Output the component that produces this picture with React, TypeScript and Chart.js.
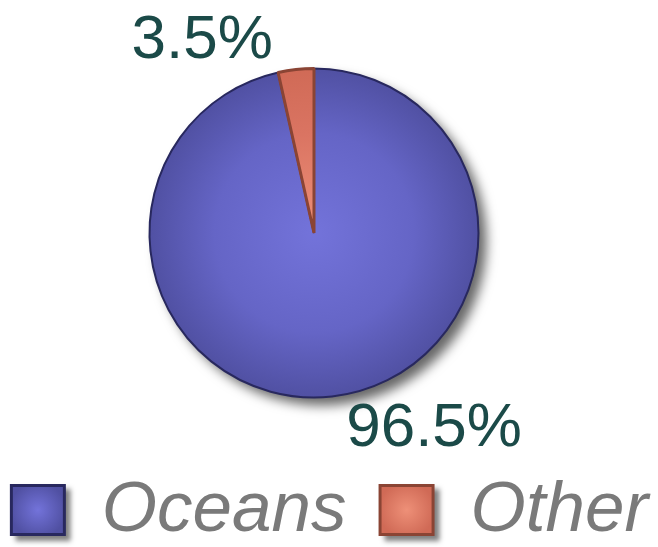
import React, { useEffect, useRef } from "react";
import { Chart, registerables } from "chart.js";

Chart.register(...registerables);

const categories = ["Oceans", "Other"];
const values = [96.5, 3.5];
const valueLabels = ["96.5%", "3.5%"];

const baseColors = ["#6565c6", "#da7462"];
const innerColors = ["#7373da", "#ee9078"];
const edgeColors = ["#5050a2", "#d06a56"];
const borderColors = ["#28285e", "#8a4434"];
const borderWidths = [2, 3];

function makeGradient(chart: any, i: number) {
  const area = chart.chartArea;
  if (!area) return baseColors[i];
  const cx = (area.left + area.right) / 2;
  const cy = (area.top + area.bottom) / 2;
  const r = Math.min(area.right - area.left, area.bottom - area.top) / 2;
  const g = chart.ctx.createRadialGradient(cx, cy, 0, cx, cy, r);
  g.addColorStop(0, innerColors[i]);
  g.addColorStop(0.6, baseColors[i]);
  g.addColorStop(1, edgeColors[i]);
  return g;
}

const shadowPlugin = {
  id: "pieShadow",
  beforeDatasetsDraw(chart: any) {
    const arc = chart.getDatasetMeta(0).data[0];
    if (!arc) return;
    const ctx = chart.ctx;
    ctx.save();
    ctx.shadowColor = "rgba(0,0,0,0.6)";
    ctx.shadowBlur = 12;
    ctx.shadowOffsetX = 8;
    ctx.shadowOffsetY = 8;
    ctx.fillStyle = "#ffffff";
    ctx.beginPath();
    ctx.arc(arc.x, arc.y, arc.outerRadius, 0, Math.PI * 2);
    ctx.fill();
    ctx.restore();
  },
};

const labelPlugin = {
  id: "pctLabels",
  afterDatasetsDraw(chart: any) {
    const arcs = chart.getDatasetMeta(0).data;
    if (!arcs.length) return;
    const ctx = chart.ctx;
    const a = arcs[0];
    const r = a.outerRadius;
    const offsets = [
      [0.73, 1.19],
      [-0.68, -1.17],
    ];
    ctx.save();
    ctx.font = "62px 'Liberation Sans', Arial, sans-serif";
    ctx.fillStyle = "#1b4a48";
    ctx.textAlign = "center";
    ctx.textBaseline = "middle";
    valueLabels.forEach((t, i) => {
      ctx.fillText(t, a.x + offsets[i][0] * r, a.y + offsets[i][1] * r);
    });
    ctx.restore();
  },
};

const legendPlugin = {
  id: "customLegend",
  afterDraw(chart: any) {
    const ctx = chart.ctx;
    const boxW = 56;
    const boxH = 52;
    const gapText = 36;
    const gapItem = 32;
    const fontSize = 71;
    ctx.save();
    ctx.font = `italic ${fontSize}px 'Liberation Sans', Arial, sans-serif`;
    const widths = categories.map((c) => ctx.measureText(c).width);
    const total =
      widths.reduce((s, w) => s + boxW + gapText + w, 0) + gapItem * (categories.length - 1);
    let x = (chart.width - total) / 2;
    const top = chart.height - 63;
    categories.forEach((c, i) => {
      ctx.save();
      ctx.shadowColor = "rgba(0,0,0,0.5)";
      ctx.shadowBlur = 5;
      ctx.shadowOffsetX = 5;
      ctx.shadowOffsetY = 5;
      ctx.fillStyle = borderColors[i];
      ctx.fillRect(x, top, boxW, boxH);
      ctx.restore();
      const g = ctx.createRadialGradient(x + boxW / 2, top + boxH / 2, 0, x + boxW / 2, top + boxH / 2, boxW / 2);
      g.addColorStop(0, innerColors[i]);
      g.addColorStop(1, edgeColors[i]);
      ctx.fillStyle = g;
      ctx.fillRect(x + 3, top + 3, boxW - 6, boxH - 6);
      ctx.fillStyle = "#7a7a7a";
      ctx.textBaseline = "middle";
      ctx.textAlign = "left";
      ctx.fillText(c, x + boxW + gapText, top + boxH / 2 + 1);
      x += boxW + gapText + widths[i] + gapItem;
    });
    ctx.restore();
  },
};

export default function App() {
  const ref = useRef<HTMLCanvasElement>(null);
  useEffect(() => {
    if (!ref.current) return;
    const chart = new Chart(ref.current, {
      type: "pie",
      data: {
        labels: categories,
        datasets: [
          {
            data: values,
            backgroundColor: (ctx: any) => makeGradient(ctx.chart, ctx.dataIndex),
            borderColor: borderColors,
            borderWidth: borderWidths,
          },
        ],
      },
      options: {
        responsive: false,
        animation: false,
        layout: { padding: { top: 67, bottom: 148, left: 4, right: 34 } },
        plugins: {
          legend: { display: false },
          tooltip: { enabled: false },
        },
      },
      plugins: [shadowPlugin, labelPlugin, legendPlugin],
    });
    return () => chart.destroy();
  }, []);
  return (
    <div style={{ position: "fixed", left: 0, top: 0, width: 658, height: 547, background: "#fff" }}>
      <canvas ref={ref} width={658} height={547} />
    </div>
  );
}
